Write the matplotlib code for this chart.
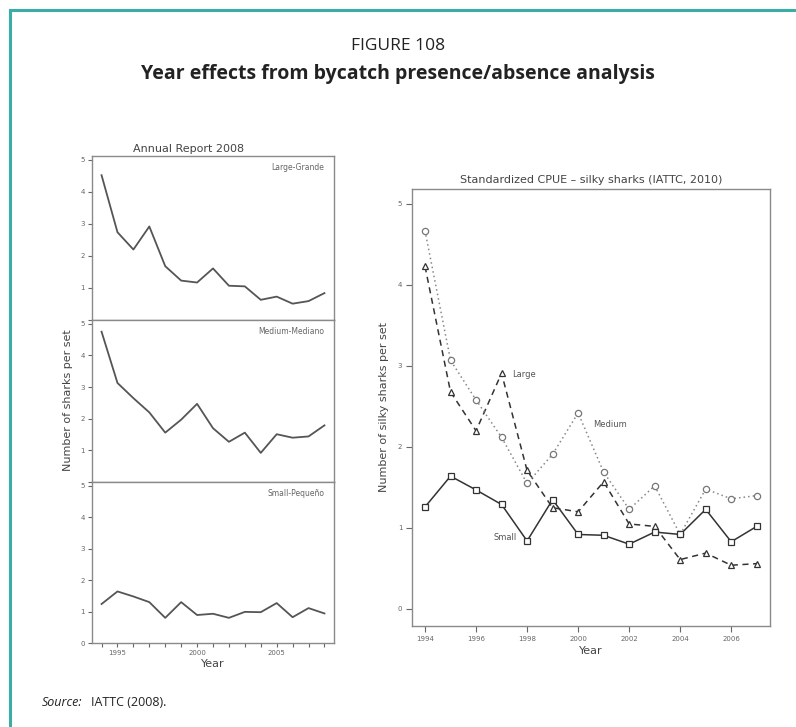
import matplotlib
matplotlib.use("Agg")
import matplotlib.pyplot as plt
from matplotlib.lines import Line2D

# ---- data -------------------------------------------------------------
years_left = list(range(1994, 2009))
large_grande = [4.52, 2.74, 2.20, 2.92, 1.68, 1.23, 1.17, 1.61, 1.07, 1.05, 0.63, 0.73, 0.51, 0.59, 0.84]
medium_mediano = [4.75, 3.13, 2.65, 2.20, 1.56, 1.97, 2.47, 1.70, 1.27, 1.56, 0.92, 1.51, 1.40, 1.44, 1.79]
small_pequeno = [1.24, 1.64, 1.48, 1.30, 0.80, 1.30, 0.89, 0.93, 0.80, 0.99, 0.98, 1.27, 0.82, 1.11, 0.94]
panel_names = ["Large-Grande", "Medium-Mediano", "Small-Pequeño"]
left_xticks = [1995, 2000, 2005]

years_right = list(range(1994, 2008))
large = [4.23, 2.68, 2.20, 2.91, 1.71, 1.25, 1.20, 1.57, 1.05, 1.02, 0.61, 0.69, 0.54, 0.56]
medium = [4.67, 3.07, 2.58, 2.12, 1.55, 1.91, 2.42, 1.69, 1.23, 1.52, 0.92, 1.48, 1.36, 1.40]
small = [1.26, 1.64, 1.47, 1.29, 0.84, 1.35, 0.92, 0.91, 0.80, 0.95, 0.92, 1.23, 0.83, 1.02]
right_xticks = [1994, 1996, 1998, 2000, 2002, 2004, 2006]

W, H = 796, 727
fig = plt.figure(figsize=(W / 100, H / 100), dpi=100)
fig.patch.set_facecolor("white")

def box(x0, y0, x1, y1):
    return [x0 / W, 1 - y1 / H, (x1 - x0) / W, (y1 - y0) / H]

teal = "#3aaea6"
fig.add_artist(Line2D([10 / W, 1], [1 - 10 / H, 1 - 10 / H], color=teal, lw=2.2))
fig.add_artist(Line2D([10 / W, 10 / W], [0, 1 - 10 / H], color=teal, lw=2.2))

fig.text(398 / W, 1 - 46 / H, "FIGURE 108", ha="center", va="center",
         fontsize=12.5, family="Open Sans", color="#222222")
fig.text(398 / W, 1 - 74 / H, "Year effects from bycatch presence/absence analysis",
         ha="center", va="center", fontsize=14, family="Open Sans",
         weight="bold", color="#222222")
fig.text(42 / W, 1 - 703 / H, "Source:", ha="left", va="center", fontsize=9,
         family="Open Sans", style="italic", color="#222222")
fig.text(91 / W, 1 - 703 / H, "IATTC (2008).", ha="left", va="center", fontsize=9,
         family="Open Sans", color="#222222")

axis_grey = "#8a8a8a"
line_grey = "#555555"
tick_kw = dict(labelsize=5, colors="#666666", length=3, width=0.8, pad=2)

# ---- left: three stacked panels --------------------------------------
edges = [156, 320, 482, 643]
series = [large_grande, medium_mediano, small_pequeno]
for i, (vals, name) in enumerate(zip(series, panel_names)):
    ax = fig.add_axes(box(92, edges[i], 334, edges[i + 1]))
    ax.plot(years_left, vals, color=line_grey, lw=1.3)
    ax.set_xlim(1993.4, 2008.6)
    ax.set_ylim(0, 5.12)
    ax.set_yticks([0, 1, 2, 3, 4, 5])
    # the shared boundary carries the label of the panel below only
    ax.set_yticklabels(["" if (v == 0 and i < 2) else str(v) for v in range(6)])
    ax.set_xticks(years_left, minor=False)
    ax.set_xticklabels([str(y) if y in left_xticks else "" for y in years_left])
    ax.tick_params(axis="both", **tick_kw)
    for s in ax.spines.values():
        s.set_color(axis_grey)
        s.set_linewidth(1.0)
    if i < 2:
        ax.tick_params(axis="x", length=0, labelbottom=False)
    ax.text(0.96, 0.93, name, transform=ax.transAxes, ha="right", va="center",
            fontsize=5.5, color="#666666")
    if i == 0:
        ax.set_title("Annual Report 2008", fontsize=8, color="#444444", pad=3, x=0.4)
    if i == 2:
        ax.set_xlabel("Year", fontsize=8, color="#444444", labelpad=2)

fig.text(68 / W, 1 - 400 / H, "Number of sharks per set", rotation=90,
         ha="center", va="center", fontsize=8, color="#444444")

# ---- right: standardized CPUE -----------------------------------------
ax = fig.add_axes(box(412, 189, 770, 626))
ax.plot(years_right, large, color="#333333", lw=1.1, ls=(0, (4, 3)),
        marker="^", ms=4.5, mfc="white", mec="#333333", mew=0.9)
ax.plot(years_right, medium, color="#888888", lw=1.1, ls=(0, (1, 2)),
        marker="o", ms=4.5, mfc="white", mec="#777777", mew=0.9)
ax.plot(years_right, small, color="#333333", lw=1.1, ls="-",
        marker="s", ms=4.2, mfc="white", mec="#333333", mew=0.9)
ax.set_xlim(1993.49, 2007.52)
ax.set_ylim(-0.21, 5.185)
ax.set_yticks([0, 1, 2, 3, 4, 5])
ax.set_xticks(right_xticks)
ax.tick_params(axis="both", labelsize=5, colors="#666666", length=4, width=0.8, pad=3)
for s in ax.spines.values():
    s.set_color(axis_grey)
    s.set_linewidth(1.0)
ax.set_title("Standardized CPUE – silky sharks (IATTC, 2010)", fontsize=8,
             color="#444444", pad=4)
ax.set_xlabel("Year", fontsize=8, color="#444444", labelpad=3)
ax.set_ylabel("Number of silky sharks per set", fontsize=8, color="#444444", labelpad=6)
ax.text(1997.4, 2.9, "Large", fontsize=6, color="#555555", va="center")
ax.text(2000.6, 2.28, "Medium", fontsize=6, color="#555555", va="center")
ax.text(1996.7, 0.88, "Small", fontsize=6, color="#555555", va="center")

fig.savefig("out.png", dpi=100, facecolor="white")
